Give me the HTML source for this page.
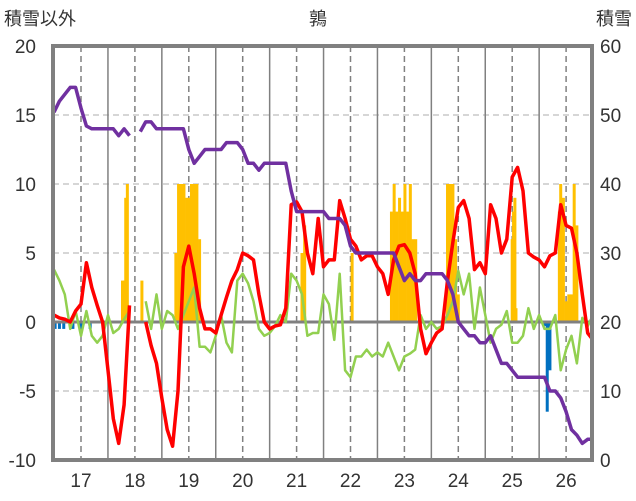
<!DOCTYPE html>
<html><head><meta charset="utf-8"><style>
body{margin:0;background:#fff;}
svg{display:block;font-family:"Liberation Sans","Noto Sans CJK JP",sans-serif;}
</style></head><body>
<svg id="chart" width="636" height="501" viewBox="0 0 636 501"></svg>
<script>
const years=['17','18','19','20','21','22','23','24','25','26'];
const leftTicks=['20','15','10','5','0','-5','-10'];
const rightTicks=['60','50','40','30','20','10','0'];
const t0=16.5, step=0.1;
const redSeries=[0.5,0.3,0.2,0.0,0.8, 1.3,4.3,2.5,1.2,0.0, -3.5,-7,-8.8,-6,1.2, null,null,0.0,-1.7,-3, -5.5,-7.8,-9,-5,4, 5.5,3.5,1.0,-0.5,-0.5, -0.8,0.5,1.8,3.0,3.8, 5.0,4.8,4.5,2.0,0.0, -0.5,-0.3,-0.2,1.0,8.5, 8.7,8.0,5.0,3.5,7.5, 4,4.5,4.5,8.8,7.5, 6.0,5.5,4.5,4.8,4.8, 4.0,3.5,2,4.5,5.5, 5.6,5.0,3.5,-0.5,-2.3, -1.5,-0.8,-0.5,3,5.8, 8.3,8.8,7.5,3.8,4.3, 3.5,8.5,7.5,5,6.0, 10.5,11.2,9.5,5.0,4.7, 4.5,4.0,4.8,5.0,8.5, 7.0,6.8,5.0,2.0,-0.8, -1.3];
const greenSeries=[3.8,3.0,2.0,-0.5,0.8, -1,0.8,-1.0,-1.5,-1.0, 0.5,-0.8,-0.5,0.2,0.8, null,null,1.5,-0.5,2.0, -0.5,0.8,0.5,-0.5,0.5, 1.5,2.5,-1.8,-1.8,-2.2, -1.0,0.5,-1.5,-2.2,3.0, 3.5,2.8,1.5,-0.5,-1.0, -0.8,-0.3,0.5,0.0,3.5, 3.0,2.0,-1.0,-0.8,-0.8, 2.0,1.3,-1.3,3.5,-3.5, -4.0,-2.5,-2.5,-2.0,-2.5, -2.2,-2.5,-1.5,-2.5,-3.5, -2.5,-2.3,-2.0,0.5,-0.5, 0.0,-0.5,-0.3,0.5,1.5, 3.7,2.0,3.5,-0.5,2.5, 0.5,-1.5,-0.5,-0.2,0.8, -1.5,-1.5,-1.0,1.0,-0.5, 0.5,-0.5,-0.5,0.5,-3.5, -2.0,-1.0,-3.0,0.3,-0.3, 0.5];
const purpleSeries=[15.2,16,16.5,17,17, 15.5,14.2,14,14,14, 14,14,13.5,14,13.5, null,13.8,14.5,14.5,14, 14,14,14,14,14, 12.5,11.5,12,12.5,12.5, 12.5,12.5,13,13,13, 12.5,11.5,11.5,11,11.5, 11.5,11.5,11.5,11.5,9.5, 8,8,8,8,8, 8,7.5,7.5,7.5,7, 5.5,5,5,5,5, 5,5,5,5,4, 3,3.5,3,3,3.5, 3.5,3.5,3.5,3,2, 0,-0.5,-1,-1,-1.5, -1.5,-1,-2,-3,-3, -3.5,-4,-4,-4,-4, -4,-4,-5,-5,-5.5, -6.5,-7.8,-8.2,-8.8,-8.5, -8.5];
const snowTimes=[17.77,17.80,17.83,17.86,18.13,18.76,18.81,18.86,18.91,18.96,19.0,19.05,19.10,19.15,19.2,21.1,21.15,22.03,22.76,22.81,22.86,22.91,22.96,23.01,23.06,23.11,23.16,23.21,23.8,23.85,23.9,23.95,24.0,25.0,25.025,25.05,25.07,25.875,25.9,25.95,26.0,26.05,26.1,26.15,26.2];
const snowValues=[3,3,9,10,3,5,10,10,10,9,9,10,10,10,6,5,7,5,8,10,8,9,8,10,8,10,6,6,10,10,10,6,2,6,8,9,1,8,10,9,1.5,2,2,10,7];
const blueTimes=[16.52,16.6,16.68,16.85,17.0,17.17,25.6,25.65,25.70];
const blueValues=[-0.5,-0.5,-0.5,-0.5,-0.5,-0.5,-0.3,-6.5,-3.5];

const NS='http://www.w3.org/2000/svg';
const svg=document.getElementById('chart');
const L=53,R=592,T=46,B=460;
const x=t=>81+(t-17)*53.9;
const y=v=>T+(20-v)*(B-T)/30;
function mk(tag,attrs,parent){const e=document.createElementNS(NS,tag);for(const k in attrs)e.setAttribute(k,attrs[k]);(parent||svg).appendChild(e);return e;}
const defs=mk('defs',{});
const cp=mk('clipPath',{id:'clip'},defs);mk('rect',{x:L,y:T,width:R-L,height:B-T},cp);
// grid
const grid=mk('g',{});


[15,10,5,-5].forEach(v=>mk('line',{x1:L,x2:R,y1:y(v),y2:y(v),stroke:'#c8c8c8','stroke-width':1.5,'stroke-dasharray':'6,4'},grid));
years.forEach((yr,i)=>{const t=17+i;mk('line',{x1:x(t),x2:x(t),y1:T,y2:B,stroke:'#808080','stroke-width':1.5,'stroke-dasharray':'6,4'},grid);
 if(t+0.5<26.48)mk('line',{x1:x(t+0.5),x2:x(t+0.5),y1:T,y2:B,stroke:'#808080','stroke-width':1.5},grid);});
const plot=mk('g',{'clip-path':'url(#clip)'});


snowTimes.forEach((t,i)=>{const r=mk('rect',{x:x(t)-1.5,y:y(snowValues[i]),width:3,height:y(0)-y(snowValues[i]),fill:'#ffc000'},plot);
 
 });
blueTimes.forEach((t,i)=>{const r=mk('rect',{x:x(t)-1.5,y:y(0),width:3,height:y(blueValues[i])-y(0),fill:'#0070c0'},plot);
 
 });
mk('line',{x1:L,x2:R,y1:y(0),y2:y(0),stroke:'#808080','stroke-width':3},plot);
function line(arr,color,w,name){let d='',pen=false;arr.forEach((v,i)=>{if(v===null){pen=false;return;}d+=(pen?'L':'M')+x(t0+i*step).toFixed(1)+','+y(v).toFixed(1);pen=true;});
 const p=mk('path',{d:d,fill:'none',stroke:color,'stroke-width':w,'stroke-linejoin':'round'},plot);
 
 }
line(greenSeries,'#92d050',2.5,'green-series');
line(redSeries,'#ff0000',3.5,'red-series');
line(purpleSeries,'#7030a0',3.5,'purple-series');
mk('rect',{x:L,y:T,width:R-L,height:B-T,fill:'none',stroke:'#808080','stroke-width':4});
function txt(s,xx,yy,anchor,name,size){const e=mk('text',{x:xx,y:yy,'text-anchor':anchor,'font-size':size||19,fill:'#333'});e.textContent=s;
 
 return e;}
leftTicks.forEach((s,i)=>txt(s,36,T+i*(B-T)/6+7,'end','left-tick-label'));
rightTicks.forEach((s,i)=>txt(s,600,T+i*(B-T)/6+7,'start','right-tick-label'));
years.forEach((s,i)=>txt(s,x(17+i),487,'middle','x-tick-label'));
txt('積雪以外',4,25,'start','left-axis-title',18);
txt('鶉',318,25,'middle','chart-title',18);
txt('積雪',632,25,'end','right-axis-title',18);
</script>
</body></html>
